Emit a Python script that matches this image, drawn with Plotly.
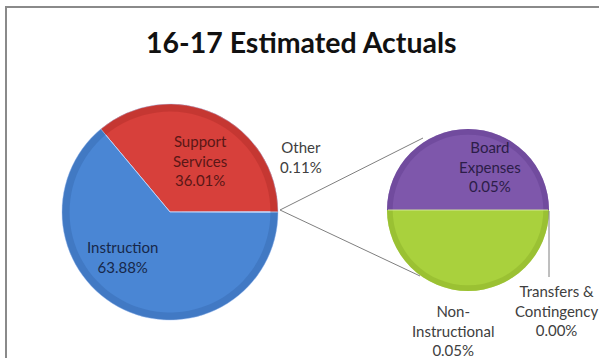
import plotly.graph_objects as go

# Primary pie: share of 16-17 estimated actual expenditures
main_labels = ["Other", "Support Services", "Instruction"]
main_values = [0.11, 36.01, 63.88]
main_colors = ["#7f7f7f", "#D7403B", "#4A86D4"]
main_rim = ["#6a6a6a", "#B8302C", "#3A6FB6"]

# Secondary pie: breakdown of "Other"
sub_labels = ["Board Expenses", "Non-Instructional", "Transfers & Contingency"]
sub_values = [0.05, 0.05, 0.00]
sub_colors = ["#7E57AB", "#A9D13D", "#cccccc"]
sub_rim = ["#674394", "#8FB52C", "#aaaaaa"]

W, H = 599, 358


def px(x):
    return x / W


def py(y):
    return 1 - y / H


main_domain = dict(x=[px(62), px(278)], y=[py(320), py(104)])
sub_domain = dict(x=[px(387), px(549)], y=[py(291), py(129)])

fig = go.Figure()


def add_pie(labels, values, colors, rim, rotation, domain, edge, edge_width):
    fig.add_trace(go.Pie(
        labels=labels, values=values, sort=False,
        direction="counterclockwise", rotation=rotation,
        marker=dict(colors=colors, line=dict(color=edge, width=edge_width)),
        textinfo="none", hoverinfo="label+percent", showlegend=False,
        domain=domain,
    ))
    # darker outer rim for a slight bevel look
    fig.add_trace(go.Pie(
        labels=labels, values=values, sort=False, hole=0.93,
        direction="counterclockwise", rotation=rotation,
        marker=dict(colors=rim, line=dict(width=0)), opacity=0.55,
        textinfo="none", hoverinfo="skip", showlegend=False,
        domain=domain,
    ))


add_pie(main_labels, main_values, main_colors, main_rim,
        90 - main_values[0] * 1.8, main_domain, "rgba(200,220,255,0.8)", 1)
add_pie(sub_labels, sub_values, sub_colors, sub_rim,
        270, sub_domain, "rgba(0,0,0,0)", 0)

font_family = "Lato, 'Open Sans', sans-serif"


def pct(v):
    return f"{v:.2f}%"


label_specs = [
    # text, x, y, color
    (f"Support<br>Services<br>{pct(main_values[1])}", 200, 160, "#5a1716"),
    (f"Instruction<br>{pct(main_values[2])}", 122, 257, "#17284a"),
    (f"Other<br>{pct(main_values[0])}", 301, 157, "#404040"),
    (f"Board<br>Expenses<br>{pct(sub_values[0])}", 490, 167, "#2c1d48"),
    (f"Non-<br>Instructional<br>{pct(sub_values[1])}", 453, 330, "#404040"),
    (f"Transfers &<br>Contingency<br>{pct(sub_values[2])}", 556, 310, "#404040"),
]

annotations = [
    dict(text="<b>16-17 Estimated Actuals</b>", x=px(301), y=py(42),
         xref="paper", yref="paper", showarrow=False,
         font=dict(family=font_family, size=28.5, color="#111111"),
         xanchor="center", yanchor="middle"),
]
for text, x, y, color in label_specs:
    annotations.append(dict(
        text=text, x=px(x), y=py(y), xref="paper", yref="paper",
        showarrow=False, xanchor="center", yanchor="middle", align="center",
        font=dict(family=font_family, size=15, color=color),
    ))

shapes = [
    # chart frame
    dict(type="rect", xref="paper", yref="paper",
         x0=px(6), y0=-0.05, x1=1.05, y1=py(7),
         line=dict(color="#8a8a8a", width=2), fillcolor="rgba(0,0,0,0)"),
    # light seam between the two halves of the secondary pie
    dict(type="line", xref="paper", yref="paper",
         x0=px(388), y0=py(210), x1=px(548), y1=py(210),
         line=dict(color="rgba(215,235,160,0.9)", width=1)),
    # connectors between the pies
    dict(type="line", xref="paper", yref="paper",
         x0=px(280), y0=py(210), x1=px(423), y1=py(138),
         line=dict(color="#7f7f7f", width=1)),
    dict(type="line", xref="paper", yref="paper",
         x0=px(280), y0=py(210), x1=px(420), y1=py(276),
         line=dict(color="#7f7f7f", width=1)),
    # leader for the zero slice
    dict(type="line", xref="paper", yref="paper",
         x0=px(549), y0=py(211), x1=px(549), y1=py(277),
         line=dict(color="#7f7f7f", width=1)),
]

fig.update_layout(
    width=W, height=H, autosize=False,
    margin=dict(l=0, r=0, t=0, b=0),
    paper_bgcolor="white", plot_bgcolor="white",
    annotations=annotations, shapes=shapes,
)

fig.write_html("out.html")
